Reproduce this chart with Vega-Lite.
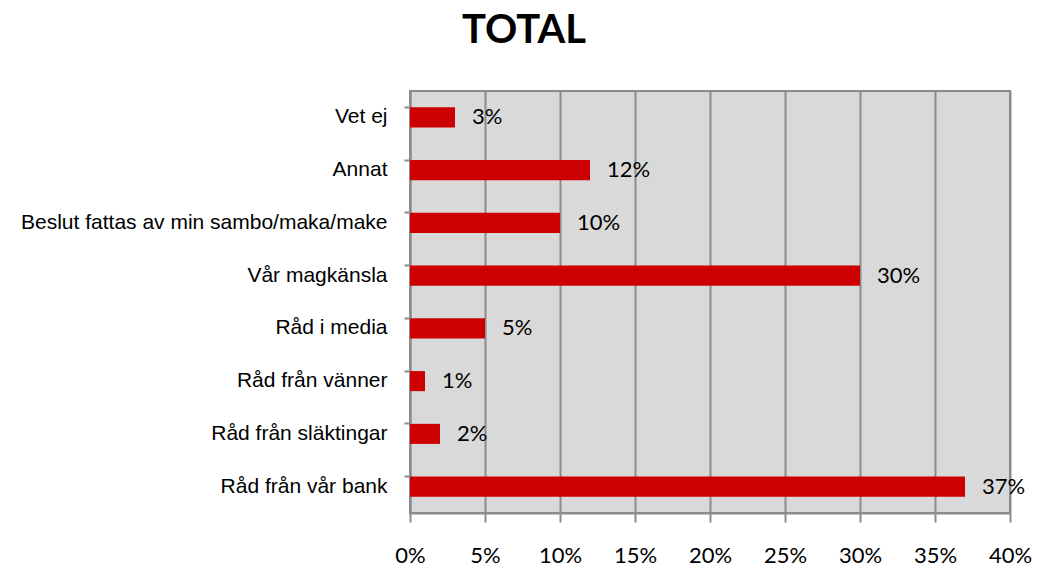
{
  "$schema": "https://vega.github.io/schema/vega-lite/v6.json",
  "autosize": "none",
  "width": 600,
  "height": 422,
  "padding": {"left": 410, "top": 91, "right": 29, "bottom": 56},
  "background": "white",
  "title": {
    "text": "TOTAL",
    "font": "Lato",
    "fontSize": 40,
    "fontWeight": "bold",
    "color": "black",
    "anchor": "middle",
    "dx": -186,
    "offset": 40
  },
  "config": {
    "view": {"fill": "#D9D9D9", "stroke": "#8C8C8C", "strokeWidth": 2}
  },
  "data": {
    "values": [
      {"kategori": "Vet ej", "andel": 0.03, "etikett": "3%"},
      {"kategori": "Annat", "andel": 0.12, "etikett": "12%"},
      {"kategori": "Beslut fattas av min sambo/maka/make", "andel": 0.10, "etikett": "10%"},
      {"kategori": "Vår magkänsla", "andel": 0.30, "etikett": "30%"},
      {"kategori": "Råd i media", "andel": 0.05, "etikett": "5%"},
      {"kategori": "Råd från vänner", "andel": 0.01, "etikett": "1%"},
      {"kategori": "Råd från släktingar", "andel": 0.02, "etikett": "2%"},
      {"kategori": "Råd från vår bank", "andel": 0.37, "etikett": "37%"}
    ]
  },
  "encoding": {
    "y": {
      "field": "kategori",
      "type": "nominal",
      "sort": null,
      "scale": {"paddingInner": 0.62, "paddingOuter": 0.31},
      "axis": {
        "title": null,
        "labelFont": "Liberation Sans",
        "labelFontSize": 21,
        "labelColor": "black",
        "labelPadding": 17,
        "labelLimit": 500,
        "bandPosition": 0,
        "tickSize": 6,
        "tickColor": "#8C8C8C",
        "tickWidth": 2,
        "domainColor": "#8C8C8C",
        "domainWidth": 2,
        "grid": false
      }
    },
    "x": {
      "field": "andel",
      "type": "quantitative",
      "scale": {"domain": [0, 0.4], "nice": false},
      "axis": {
        "title": null,
        "format": ".0%",
        "values": [0, 0.05, 0.1, 0.15, 0.2, 0.25, 0.3, 0.35, 0.4],
        "labelFont": "Lato",
        "labelFontSize": 22,
        "labelColor": "black",
        "labelPadding": 23,
        "labelFlush": false,
        "tickSize": 9,
        "tickColor": "#8C8C8C",
        "tickWidth": 2,
        "domainColor": "#8C8C8C",
        "domainWidth": 2,
        "grid": true,
        "gridColor": "#8C8C8C",
        "gridWidth": 2,
        "gridOpacity": 1
      }
    }
  },
  "layer": [
    {"mark": {"type": "bar", "color": "#CC0000"}},
    {
      "mark": {"type": "text", "align": "left", "baseline": "middle", "dx": 17, "font": "Lato", "fontSize": 22, "color": "black"},
      "encoding": {"text": {"field": "etikett"}}
    }
  ]
}
